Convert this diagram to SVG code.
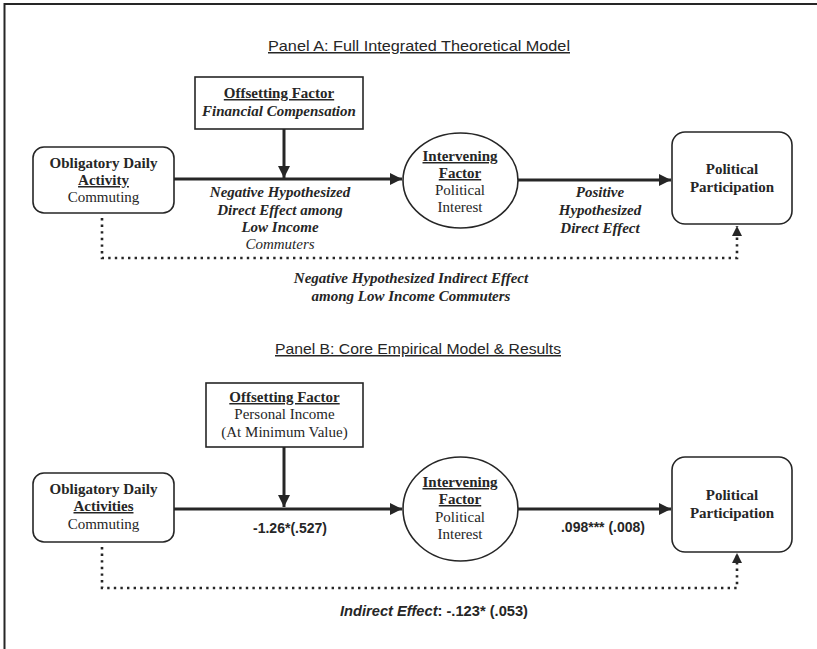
<svg xmlns="http://www.w3.org/2000/svg" width="817" height="649" viewBox="0 0 817 649">
<style>
.t{font-family:"Liberation Serif","Times New Roman",serif;font-size:15px;fill:#262626;text-anchor:middle}
.b{font-weight:bold}
.i{font-style:italic}
.u{text-decoration:underline}
.s{font-family:"Liberation Sans",Arial,sans-serif;fill:#262626;text-anchor:middle}
.box{fill:#fff;stroke:#262626;stroke-width:1.6}
.arr{fill:none;stroke:#262626;stroke-width:3}
.dot{fill:none;stroke:#262626;stroke-width:2.6;stroke-dasharray:2.4 4.2}
</style>
<defs>
<marker id="ah" markerUnits="userSpaceOnUse" markerWidth="14" markerHeight="14" refX="12" refY="6" orient="auto">
<path d="M0,0 L12,6 L0,12 Z" fill="#262626"/>
</marker>
<marker id="ahs" markerUnits="userSpaceOnUse" markerWidth="12" markerHeight="12" refX="10" refY="5" orient="auto">
<path d="M0,0 L10,5 L0,10 Z" fill="#262626"/>
</marker>
</defs>
<rect width="817" height="649" fill="#fff"/>
<path d="M4.5,649 V4 H817" fill="none" stroke="#262626" stroke-width="2"/>

<g id="titles">
<text class="s u" x="419" y="51" font-size="15" textLength="302" lengthAdjust="spacingAndGlyphs">Panel A: Full Integrated Theoretical Model</text>
<text class="s u" x="418" y="354" font-size="15" textLength="286" lengthAdjust="spacingAndGlyphs">Panel B: Core Empirical Model &amp; Results</text>
</g>

<g id="connectors">
<!-- Panel A -->
<path class="arr" d="M284,129 V178" marker-end="url(#ah)"/>
<path class="arr" d="M174,179 H402" marker-end="url(#ah)"/>
<path class="arr" d="M518,180 H671" marker-end="url(#ah)"/>
<path class="dot" d="M102,218 V258 H737 V226" marker-end="url(#ahs)"/>
<!-- Panel B -->
<path class="arr" d="M284,447 V507" marker-end="url(#ah)"/>
<path class="arr" d="M174,509 H402" marker-end="url(#ah)"/>
<path class="arr" d="M518,509 H671" marker-end="url(#ah)"/>
<path class="dot" d="M102,547 V588 H737 V553" marker-end="url(#ahs)"/>
</g>

<!-- Panel A nodes -->
<g id="a-offset">
<rect class="box" x="195" y="77" width="168" height="52"/>
<text class="t b u" x="279" y="98">Offsetting Factor</text>
<text class="t b i" x="279" y="116">Financial Compensation</text>
</g>
<g id="a-activity">
<rect class="box" x="33" y="147" width="141" height="66" rx="11"/>
<text class="t b" x="103.5" y="168">Obligatory Daily</text>
<text class="t b u" x="103.5" y="185">Activity</text>
<text class="t" x="103.5" y="202">Commuting</text>
</g>
<g id="a-interest">
<ellipse class="box" cx="460.5" cy="180.5" rx="57.5" ry="47.5"/>
<text class="t b u" x="460" y="161">Intervening</text>
<text class="t b u" x="460" y="178">Factor</text>
<text class="t" x="460" y="195">Political</text>
<text class="t" x="460" y="212">Interest</text>
</g>
<g id="a-participation">
<rect class="box" x="672" y="132" width="120" height="92" rx="13"/>
<text class="t b" x="732" y="174">Political</text>
<text class="t b" x="732" y="192">Participation</text>
</g>
<g id="a-labels">
<text class="t b i" x="280" y="197">Negative Hypothesized</text>
<text class="t b i" x="280" y="215">Direct Effect among</text>
<text class="t b i" x="280" y="232">Low Income</text>
<text class="t i" x="280" y="249">Commuters</text>
<text class="t b i" x="600" y="197">Positive</text>
<text class="t b i" x="600" y="215">Hypothesized</text>
<text class="t b i" x="600" y="233">Direct Effect</text>
<text class="t b i" x="411" y="283">Negative Hypothesized Indirect Effect</text>
<text class="t b i" x="411" y="301">among Low Income Commuters</text>
</g>

<!-- Panel B nodes -->
<g id="b-offset">
<rect class="box" x="206" y="383" width="157" height="64"/>
<text class="t b u" x="284.5" y="402">Offsetting Factor</text>
<text class="t" x="284.5" y="419">Personal Income</text>
<text class="t" x="284.5" y="437">(At Minimum Value)</text>
</g>
<g id="b-activity">
<rect class="box" x="33" y="473" width="141" height="69" rx="11"/>
<text class="t b" x="103.5" y="494">Obligatory Daily</text>
<text class="t b u" x="103.5" y="511">Activities</text>
<text class="t" x="103.5" y="529">Commuting</text>
</g>
<g id="b-interest">
<ellipse class="box" cx="460.5" cy="509" rx="57.5" ry="52"/>
<text class="t b u" x="460" y="487">Intervening</text>
<text class="t b u" x="460" y="504">Factor</text>
<text class="t" x="460" y="522">Political</text>
<text class="t" x="460" y="539">Interest</text>
</g>
<g id="b-participation">
<rect class="box" x="672" y="457" width="120" height="95" rx="13"/>
<text class="t b" x="732" y="500">Political</text>
<text class="t b" x="732" y="518">Participation</text>
</g>
<g id="b-labels">
<text class="s b" x="290" y="533" font-size="14">-1.26*(.527)</text>
<text class="s b" x="603" y="532" font-size="14">.098*** (.008)</text>
<text class="s b" x="434" y="616" font-size="14" textLength="188" lengthAdjust="spacingAndGlyphs"><tspan font-style="italic">Indirect Effect</tspan>: -.123* (.053)</text>
</g>
</svg>
